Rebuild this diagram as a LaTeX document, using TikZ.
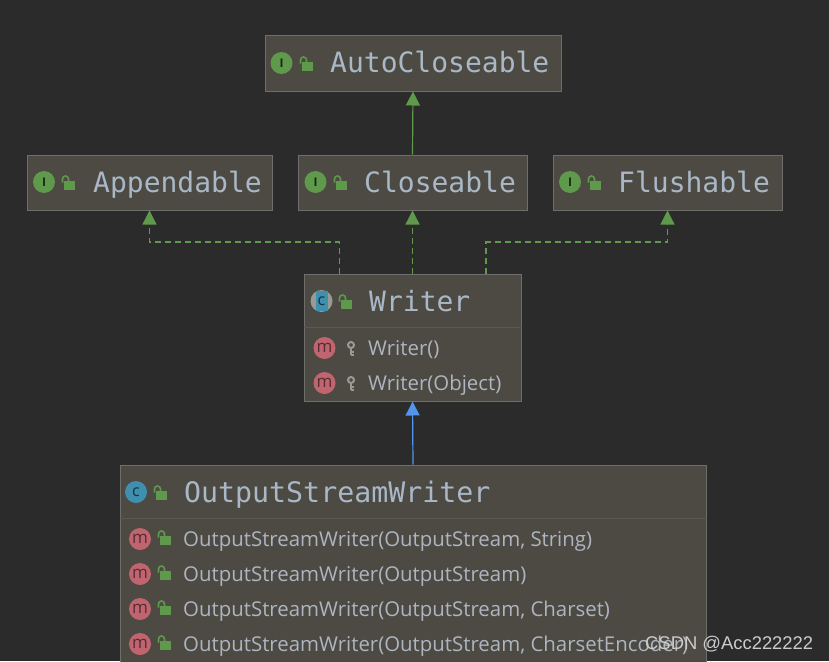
\documentclass[tikz,border=0pt]{standalone}
\usepackage{fontspec}
\setmainfont{Open Sans}
\newfontfamily\codefont{DejaVu Sans Mono}
\newfontfamily\markfont{Liberation Sans}
\usetikzlibrary{arrows.meta}
\definecolor{bgdark}{HTML}{2B2B2B}
\definecolor{boxfill}{HTML}{4C4A42}
\definecolor{boxline}{HTML}{6E6E6C}
\definecolor{rule}{HTML}{5A5850}
\definecolor{txtblue}{HTML}{A9B7C6}
\definecolor{txtgrey}{HTML}{ADB5C1}
\definecolor{icongreen}{HTML}{5F9A4C}
\definecolor{iconred}{HTML}{C0656F}
\definecolor{iconteal}{HTML}{3F8FAE}
\definecolor{icongrey}{HTML}{9A9A94}
\definecolor{arrowblue}{HTML}{5394EC}
\tikzstyle{box} = [draw=boxline, fill=boxfill, line width=1pt, rectangle, inner sep=0pt, minimum height=55pt]
\tikzstyle{title} = [anchor=base west, inner sep=0pt, text=txtblue, font=\codefont\fontsize{28}{28}\selectfont]
\tikzstyle{method} = [anchor=base west, inner sep=0pt, text=txtgrey, font=\fontsize{20.4}{24}\selectfont]
\tikzstyle{badge} = [circle, inner sep=0pt, minimum size=22pt, text depth=0pt]
\tikzstyle{ibadge} = [badge, fill=icongreen, text=black!75!icongreen, font=\fontsize{12}{12}\selectfont\bfseries]
\tikzstyle{cbadge} = [badge, fill=iconteal, text=black!65!iconteal, font=\fontsize{16}{16}\selectfont]
\tikzstyle{mbadge} = [badge, fill=iconred, text=black!55!iconred, font=\fontsize{17}{17}\selectfont]
\tikzstyle{extends} = [icongreen, line width=1.2pt, -{Triangle[length=14pt,width=14pt]}]
\tikzstyle{implements} = [extends, dash pattern=on 6pt off 4pt]
\tikzset{
  lockicon/.pic={
    \fill [icongreen] (-5.5,-4.5) rectangle (5.5,4.5);
    \draw [icongreen, line width=1.6pt] (-6.5,-2.5) -- (-6.5,-6) arc (180:360:3) -- (-0.5,-4);
  },
  keyicon/.pic={
    \draw [icongrey, line width=2pt] (0,-3) circle (3);
    \draw [icongrey, line width=2pt] (0,0) -- (0,7) (0,3.5) -- (3,3.5) (0,6.5) -- (3,6.5);
  }
}
\begin{document}
\begin{tikzpicture}[x=1pt, y=-1pt]
    \clip (0,0) rectangle (829,661);
    \fill [bgdark] (0,0) rectangle (829,661);

    % The boxes first
    \node [box, minimum width=296pt] (autocloseable) at (413,63.5) {};
    \node [box, minimum width=245pt] (appendable) at (149.5,182.5) {};
    \node [box, minimum width=229pt] (closeable) at (412.5,182.5) {};
    \node [box, minimum width=229pt] (flushable) at (667.5,182.5) {};
    \node [box, minimum width=217pt, minimum height=127pt] (writer) at (412.5,337.5) {};
    \node [box, minimum width=586pt, minimum height=230pt] (osw) at (413,580) {};
    \draw [rule] (writer.west |- 0,327) -- (writer.east |- 0,327);
    \draw [rule] (osw.west |- 0,518) -- (osw.east |- 0,518);

    % Header of each box
    \node [ibadge] (iauto) at (281.5,63) {I};
    \pic at (307,66) {lockicon};
    \node [title] (tauto) at (330,73) {AutoCloseable};
    \node [ibadge] (iappend) at (44,182) {I};
    \pic at (69,185) {lockicon};
    \node [title] (tappend) at (93,192) {Appendable};
    \node [ibadge] (iclose) at (315.5,182) {I};
    \pic at (341,185) {lockicon};
    \node [title] (tclose) at (364,192) {Closeable};
    \node [ibadge] (iflush) at (570,182) {I};
    \pic at (595,185) {lockicon};
    \node [title] (tflush) at (618,192) {Flushable};
    \node [badge, fill=icongrey] (cwriter) at (321.5,301) {};
    \fill [iconteal] (315.5,291) rectangle (328,311);
    \node [cbadge, fill=none] (lwriter) at (321.5,301) {c};
    \pic at (346,304) {lockicon};
    \node [title] (twriter) at (369,311) {Writer};
    \node [cbadge] (cosw) at (136,492) {c};
    \pic at (161,495) {lockicon};
    \node [title, font=\codefont\fontsize{28.25}{28}\selectfont] (tosw) at (184,502) {OutputStreamWriter};

    % Members
    \node [mbadge] (mw1) at (324.5,348) {m};
    \pic at (351,348) {keyicon};
    \node [method] (twm1) at (368,355) {Writer()};
    \node [mbadge] (mw2) at (324.5,383) {m};
    \pic at (351,383) {keyicon};
    \node [method] (twm2) at (368,390) {Writer(Object)};
    \foreach \y/\args in {539/{OutputStream, String}, 574/{OutputStream}, 609/{OutputStream, Charset}, 644/{OutputStream, CharsetEncoder}} {
        \node [mbadge] (m\y) at (140,\y) {m};
        \pic at (165,\y+1) {lockicon};
        \node [method] (t\y) at (183,\y+7) {OutputStreamWriter(\args)};
    }

    % Connectors between the boxes
    \draw [extends] (closeable.north) -- (autocloseable.south);
    \draw [implements] ([xshift=-73pt]writer.north) -- ++(0,-31.5) -| (appendable.south);
    \draw [implements] (writer.north) -- (closeable.south);
    \draw [implements] ([xshift=73.5pt]writer.north) -- ++(0,-31.5) -| (flushable.south);
    \draw [arrowblue, line width=1.2pt, -{Triangle[length=14pt,width=14pt]}] (osw.north) -- (writer.south);

    \node [anchor=base west, inner sep=0pt, text=white!80!black, font=\markfont\fontsize{18.4}{20}\selectfont] (mark) at (645,649) {CSDN @Acc222222};
\end{tikzpicture}
\end{document}
